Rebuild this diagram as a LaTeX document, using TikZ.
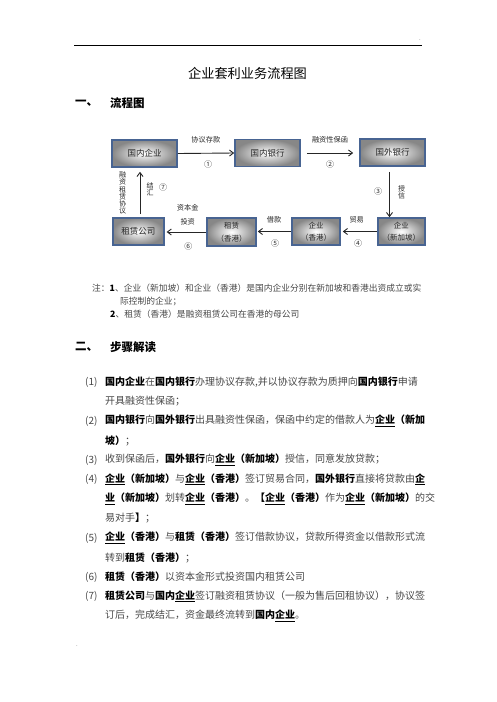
\documentclass[tikz,border=0pt]{standalone}
\usepackage{fontspec}
\setmainfont{Noto Sans CJK SC}
\usetikzlibrary{arrows.meta}
\definecolor{boxline}{RGB}{72,100,146}
\definecolor{boxshade}{RGB}{135,135,135}
\definecolor{bodytext}{RGB}{70,70,70}
\newcommand{\kword}[1]{{\bfseries\color{black}#1}}
\tikzstyle{box}=[draw=boxline, line width=1.6pt, inner color=white, outer color=boxshade, inner sep=0pt, minimum height=27pt, align=center, text=black!85, font=\fontsize{8.5}{10}\selectfont]
\tikzset{small box/.style={box, font=\fontsize{7.5}{12.5}\selectfont}}
\tikzstyle{flow}=[-{Straight Barb[length=4pt,width=6pt]}, line width=0.9pt, black!85]
\tikzstyle{lbl}=[inner sep=0pt, text=black!85, font=\fontsize{7.2}{14}\selectfont, align=center]
\tikzstyle{stack}=[inner sep=0pt, text=black!85, font=\fontsize{7}{7.1}\selectfont, align=center]
\tikzstyle{num}=[inner sep=0pt, text=black!80, font=\fontsize{8}{9}\selectfont]
\tikzstyle{heading}=[anchor=west, inner sep=0pt, font=\fontsize{11.5}{13}\selectfont\bfseries]
\tikzstyle{notetext}=[anchor=west, inner sep=0pt, text=bodytext, font=\fontsize{8.75}{10}\selectfont]
\tikzstyle{steptext}=[anchor=west, inner sep=0pt, text=bodytext, font=\fontsize{10}{12}\selectfont]

\begin{document}
\begin{tikzpicture}[x=1pt,y=-1pt]
  \useasboundingbox (0,0) rectangle (496,702);
  %% Page header
  \draw[line width=0.8pt] (74,45) -- (422,45);
  \draw (420,40) node[inner sep=0pt, text=black!60, font=\fontsize{6}{6}\selectfont] (headmark) {.};
  \draw (247.5,73) node[font=\fontsize{13.2}{15}\selectfont] (title) {企业套利业务流程图};
  \draw (75,103) node[heading] (h1no) {一、};
  \draw (110,103) node[heading] (h1) {流程图};

  %% Flow chart boxes
  \draw (144.5,153.5) node[box, minimum width=65pt] (dcorp) {国内企业};
  \draw (267.5,153) node[box, minimum width=65pt] (dbank) {国内银行};
  \draw (392.5,152.5) node[box, minimum width=65pt] (fbank) {国外银行};
  \draw (401.3,231.5) node[small box, minimum width=47pt] (sgcorp) {企业\\（新加坡）};
  \draw (316,231.5) node[small box, minimum width=48pt] (hkcorp) {企业\\（香港）};
  \draw (231.5,232) node[small box, minimum width=49pt, minimum height=28pt] (hklease) {租赁\\（香港）};
  \draw (138.3,231.5) node[box, minimum width=51pt] (lcorp) {租赁公司};

  %% Flows
  \draw[flow] (dcorp.east) -- (dbank.west);
  \draw[flow, shorten <=6pt, shorten >=6pt] (dbank.east) -- (fbank.west |- dbank.east);
  \draw[flow, shorten <=5pt] ([xshift=-3pt]fbank.south) -- ([xshift=-3pt]fbank.south |- sgcorp.north);
  \draw[flow, shorten >=2pt] (sgcorp.west) -- (hkcorp.east);
  \draw[flow, shorten >=1pt] (hkcorp.west) -- (hklease.east |- hkcorp.west);
  \draw[flow, shorten >=2pt] (hklease.west) -- (lcorp.east |- hklease.west);
  \draw[flow, shorten <=3pt, shorten >=4pt] ([xshift=1.7pt]lcorp.north) -- ([xshift=1.7pt]lcorp.north |- dcorp.south);

  %% Flow labels
  \draw (205.8,140) node[lbl] (l1) {协议存款};
  \draw (208,164.3) node[num] (n1) {①};
  \draw (330,140) node[lbl] (l2) {融资性保函};
  \draw (330,164) node[num] (n2) {②};
  \draw (378,191.7) node[num] (n3) {③};
  \draw (401.7,192) node[stack] (l3) {授\\信};
  \draw (356.7,220) node[lbl] (l4) {贸易};
  \draw (358,243.3) node[num] (n4) {④};
  \draw (274,220) node[lbl] (l5) {借款};
  \draw (275,243) node[num] (n5) {⑤};
  \draw (187.7,214.7) node[lbl] (l6) {资本金\\投资};
  \draw (188.3,246.7) node[num] (n6) {⑥};
  \draw (150,189) node[stack] (l7) {结\\汇};
  \draw (163,187.7) node[num] (n7) {⑦};
  \draw (122.7,193) node[stack] (l8) {融\\资\\租\\赁\\协\\议};

  %% Notes
  \draw (92,288) node[notetext] (note1) {注：\kword{1}、企业（新加坡）和企业（香港）是国内企业分别在新加坡和香港出资成立或实};
  \draw (120,301) node[notetext] (note1b) {际控制的企业；};
  \draw (110,314) node[notetext] (note2) {\kword{2}、租赁（香港）是融资租赁公司在香港的母公司};

  %% Steps
  \draw (75,347) node[heading] (h2no) {二、};
  \draw (110,347) node[heading] (h2) {步骤解读};

  \draw (85,382) node[steptext] (s1) {(1)};
  \draw (105,382) node[steptext] (s1a) {\kword{国内企业}在\kword{国内银行}办理协议存款,并以协议存款为质押向\kword{国内银行}申请};
  \draw (105,401.5) node[steptext] (s1b) {开具融资性保函；};
  \draw (85,421) node[steptext] (s2) {(2)};
  \draw (105,421) node[steptext] (s2a) {\kword{国内银行}向\kword{国外银行}出具融资性保函，保函中约定的借款人为\kword{\underline{企业}（新加}};
  \draw (105,440.5) node[steptext] (s2b) {\kword{坡）}；};
  \draw (85,460) node[steptext] (s3) {(3)};
  \draw (105,460) node[steptext] (s3a) {收到保函后，\kword{国外银行}向\kword{\underline{企业}（新加坡）}授信，同意发放贷款；};
  \draw (85,479.5) node[steptext] (s4) {(4)};
  \draw (105,479.5) node[steptext] (s4a) {\kword{\underline{企业}（新加坡）}与\kword{\underline{企业}（香港）}签订贸易合同，\kword{国外银行}直接将贷款由\kword{\underline{企}}};
  \draw (105,499) node[steptext] (s4b) {\kword{\underline{业}（新加坡）}划转\kword{\underline{企业}（香港）}。\kword{【\underline{企业}（香港）}作为\kword{\underline{企业}（新加坡）}的交};
  \draw (105,518.5) node[steptext] (s4c) {易对手\kword{】}；};
  \draw (85,538) node[steptext] (s5) {(5)};
  \draw (105,538) node[steptext] (s5a) {\kword{\underline{企业}（香港）}与\kword{租赁（香港）}签订借款协议，贷款所得资金以借款形式流};
  \draw (105,557.5) node[steptext] (s5b) {转到\kword{租赁（香港）}；};
  \draw (85,577) node[steptext] (s6) {(6)};
  \draw (105,577) node[steptext] (s6a) {\kword{租赁（香港）}以资本金形式投资国内租赁公司};
  \draw (85,596.5) node[steptext] (s7) {(7)};
  \draw (105,596.5) node[steptext] (s7a) {\kword{租赁公司}与\kword{国内\underline{企业}}签订融资租赁协议（一般为售后回租协议），协议签};
  \draw (105,616) node[steptext] (s7b) {订后，完成结汇，资金最终流转到\kword{国内\underline{企业}}。};

  %% Page footer mark
  \draw (77,646) node[inner sep=0pt, text=black!60, font=\fontsize{6}{6}\selectfont] (footmark) {.};
\end{tikzpicture}
\end{document}
